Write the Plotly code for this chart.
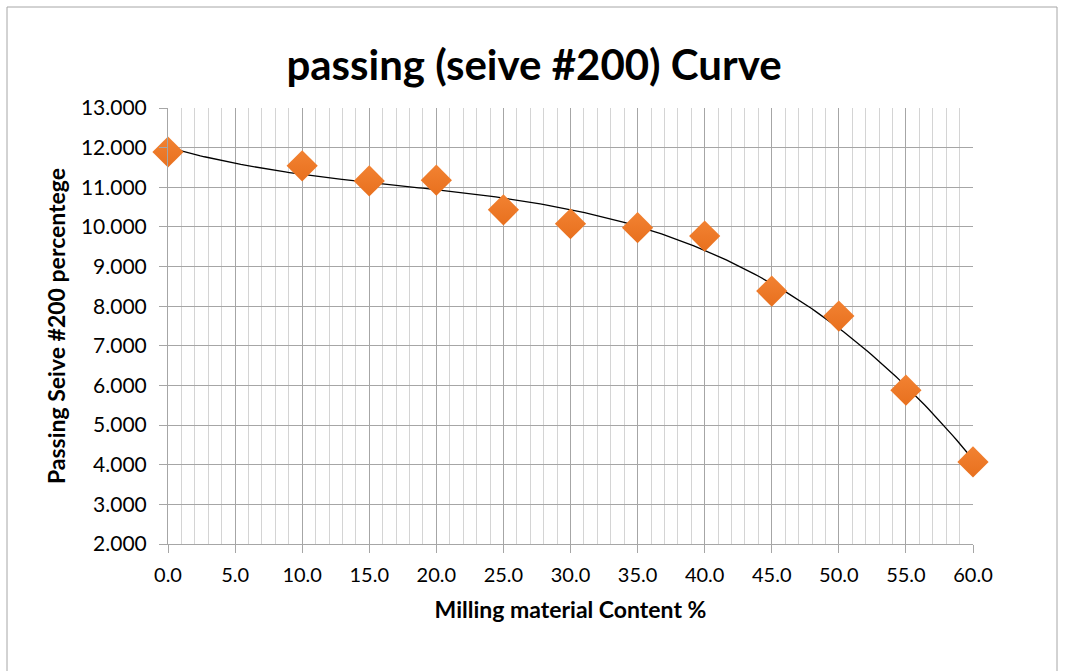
import numpy as np
import plotly.graph_objects as go

# milling material content (%) and passing seive #200 (%)
content = [0, 10, 15, 20, 25, 30, 35, 40, 45, 50, 55, 60]
passing = [11.89, 11.54, 11.16, 11.18, 10.43, 10.08, 9.98, 9.77, 8.38, 7.75, 5.88, 4.07]

# polynomial trendline (order 3), as excel does it
coef = np.polyfit(content, passing, 3)
x_fit = np.linspace(min(content), max(content), 200)
y_fit = np.polyval(coef, x_fit)

W, H = 1065, 671
ml, mr, mt, mb = 168, 92, 108, 127
pw = W - ml - mr
ph = H - mt - mb

fig = go.Figure()
fig.add_trace(go.Scatter(x=x_fit, y=y_fit, mode='lines',
                         line=dict(color='black', width=1.3),
                         hoverinfo='skip', showlegend=False))
fig.add_trace(go.Scatter(x=content, y=passing, mode='markers', cliponaxis=False,
                         marker=dict(symbol='diamond', size=24, color='#F28232',
                                     line=dict(width=0),
                                     gradient=dict(type='vertical', color='#E8701E')),
                         showlegend=False))

font = "Lato, 'Open Sans', sans-serif"
fig.update_layout(
    width=W, height=H,
    margin=dict(l=ml, r=mr, t=mt, b=mb, autoexpand=False),
    paper_bgcolor='white', plot_bgcolor='white',
    font=dict(family=font, color='black'),
    title=dict(text='<b>passing (seive #200) Curve</b>', x=(534 - ml) / pw,
               xref='paper', y=1 - 65 / H, yref='container',
               xanchor='center', yanchor='middle',
               font=dict(size=42, family=font), automargin=False),
)
fig.update_xaxes(range=[0, 60], dtick=5, tickformat='.1f', automargin=False,
                 showgrid=True, gridcolor='#a6a6a6', gridwidth=1,
                 minor=dict(dtick=1, showgrid=True, gridcolor='#d4d4d4', gridwidth=1),
                 ticks='outside', ticklen=8, tickcolor='#a6a6a6',
                 showline=True, linecolor='#a6a6a6', zeroline=False,
                 tickfont=dict(size=20), ticklabelstandoff=5,
                 title=dict(text='<b>Milling material Content %</b>',
                            font=dict(size=23), standoff=16))
fig.update_yaxes(range=[2, 13], dtick=1, tickformat='.3f', automargin=False,
                 showgrid=True, gridcolor='#a6a6a6', gridwidth=1,
                 ticks='outside', ticklen=8, tickcolor='#a6a6a6',
                 showline=True, linecolor='#a6a6a6', zeroline=False,
                 tickfont=dict(size=21), ticklabelstandoff=8,
                 title=dict(text='<b>Passing Seive #200 percentege</b>',
                            font=dict(size=23), standoff=8))

# chart area border
fig.add_shape(type='rect', xref='paper', yref='paper',
              x0=(7 - ml) / pw, x1=(1057 - ml) / pw,
              y0=-(H - mt - 6 + 40) / ph, y1=1 + (mt - 7) / ph,
              line=dict(color='#a6a6a6', width=1), layer='below')

fig.write_html("out.html", config={'displayModeBar': False},
               post_script="document.body.style.margin='0';")
